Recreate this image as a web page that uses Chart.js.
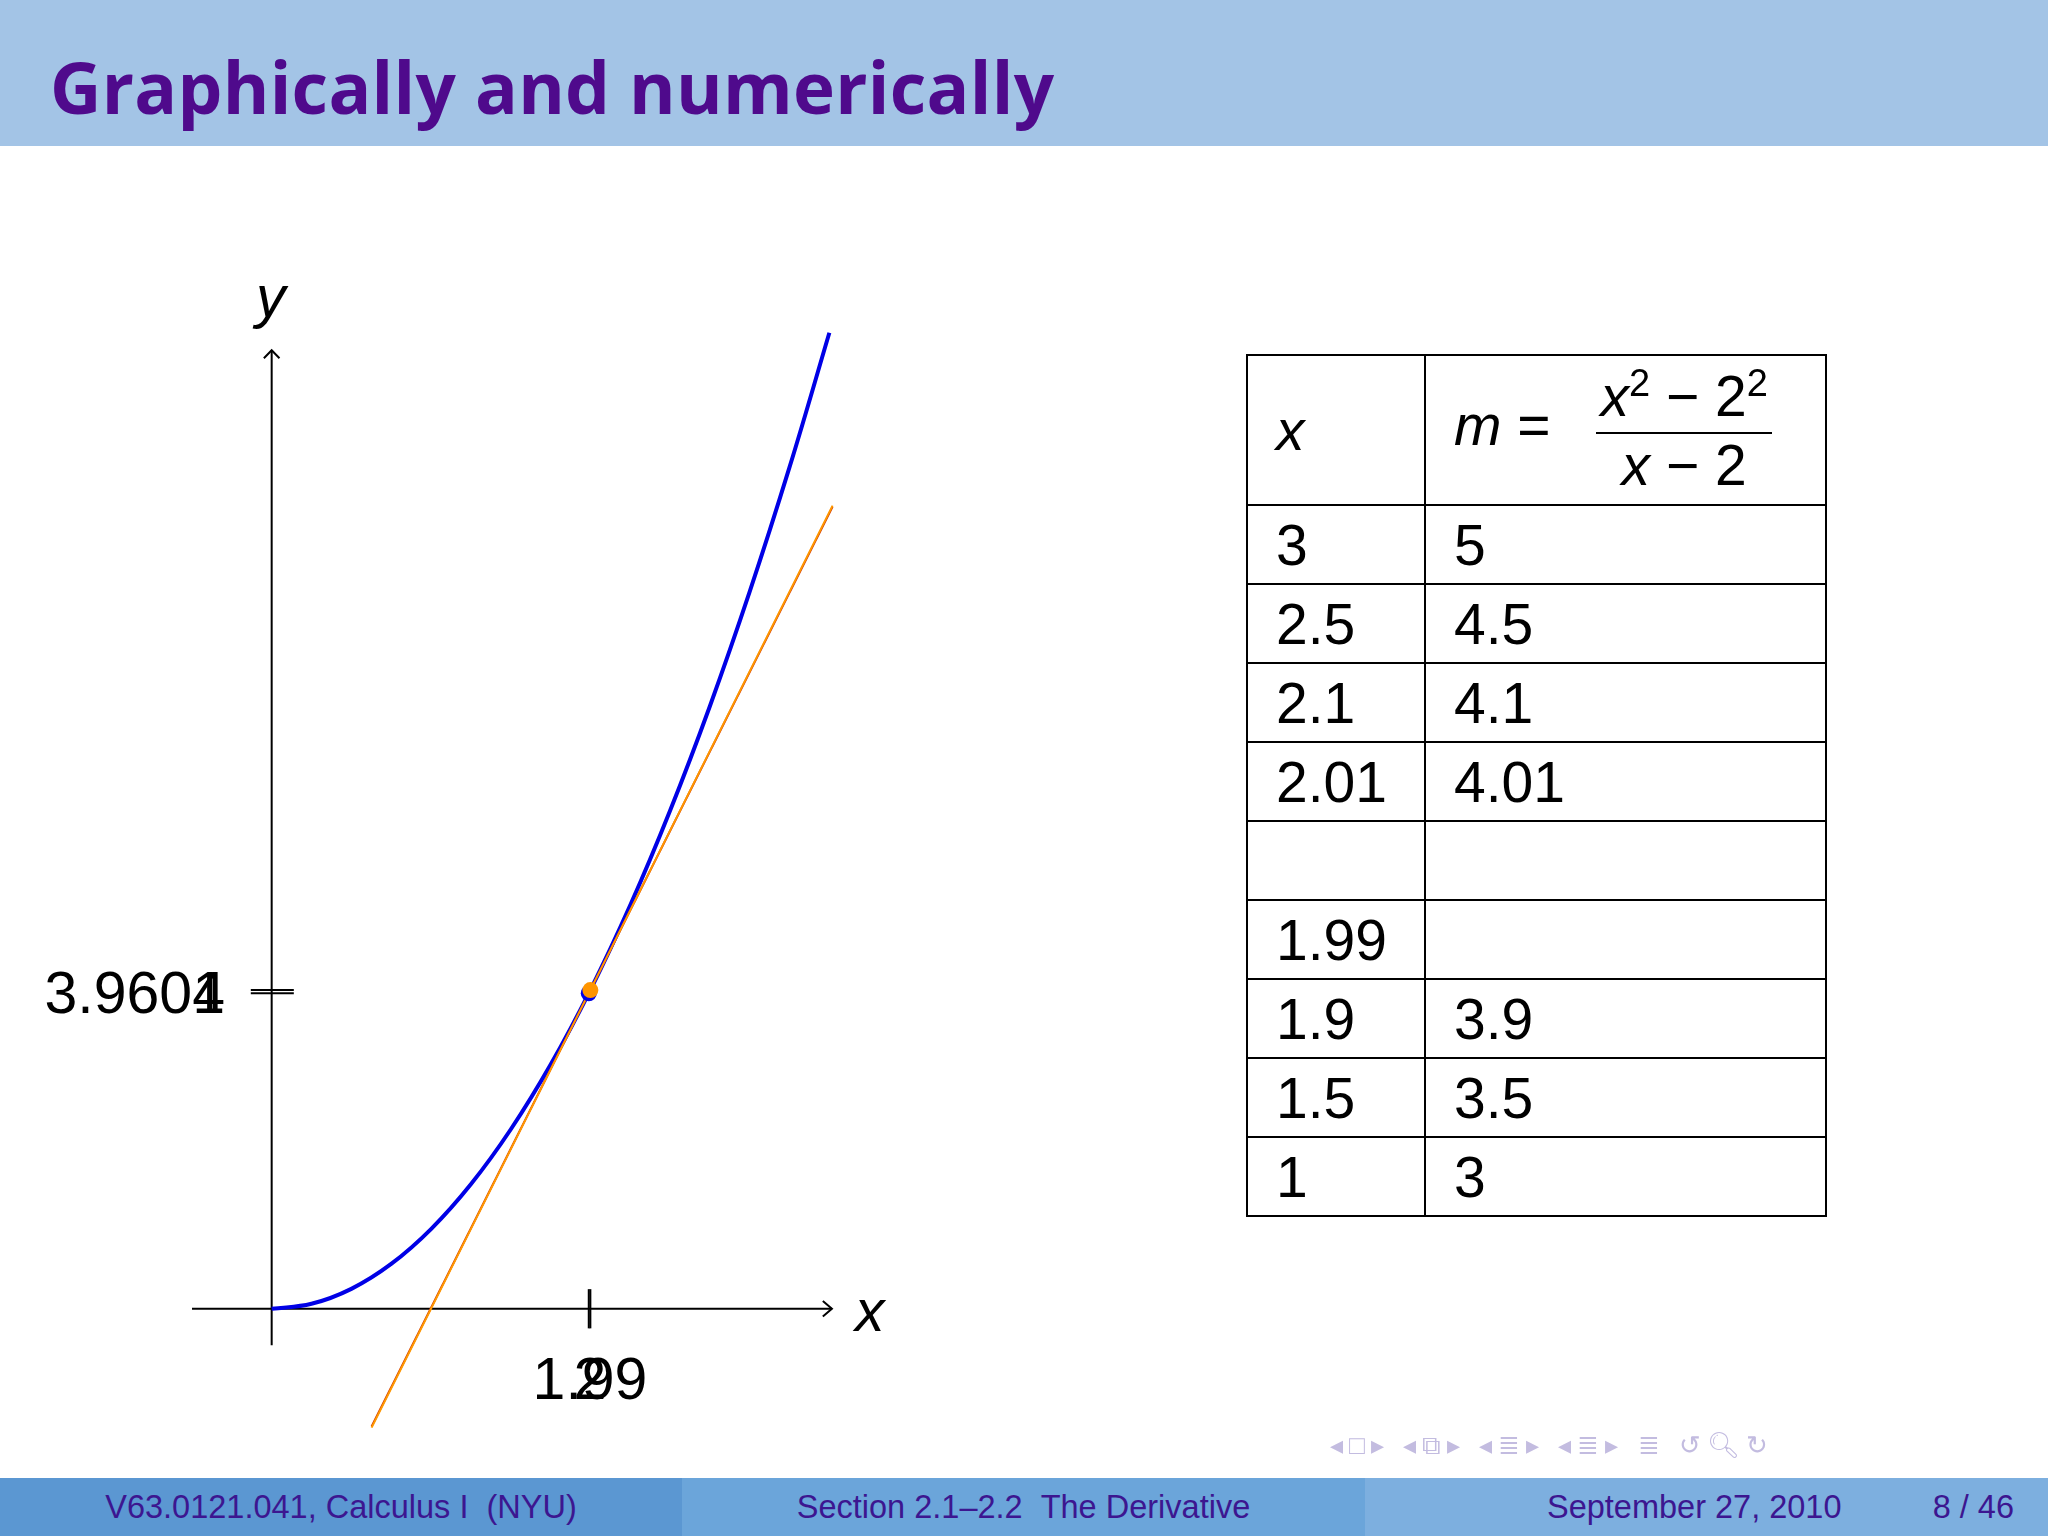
<!DOCTYPE html>
<html>
<head>
<meta charset="utf-8">
<script src="https://cdn.jsdelivr.net/npm/chart.js@4"></script>
<style>
  body { margin: 0; width: 2048px; height: 1536px; position: relative; background: #fff; overflow: hidden; font-family: "Liberation Sans", Arial, sans-serif; }
  #plot { position: absolute; left: 0; top: 0; width: 2048px; height: 1536px; }
  .abs { position: absolute; }
  #header { left: 0; top: 0; width: 2048px; height: 146px; background: #a3c4e6; }
  #title { left: 50px; top: 38px; font: bold 71px "Open Sans", "DejaVu Sans", sans-serif; color: #4f0a8c; letter-spacing: 0.3px; }
  .foot { top: 1478px; height: 58px; line-height: 58px; font-size: 32.5px; color: #3c1690; }
  .lbl { font-size: 59px; color: #000; line-height: 1; }
  table { position: absolute; left: 1246px; top: 354px; border-collapse: collapse; font-size: 57px; }
  td { border: 2px solid #000; height: 77px; padding: 0 0 0 28px; vertical-align: middle; }
  td.c1 { width: 148px; }
  td.c2 { width: 371px; }
  tr.hd td { height: 148px; }
  .frac { display: inline-block; vertical-align: middle; text-align: center; margin-left: 30px; }
  .frac span { display: block; line-height: 1.1; }
  .frac .num { border-bottom: 2px solid #000; padding: 0 4px 4px; }
  #nav { left: 1330px; top: 1430px; font-size: 26px; color: #c3bce0; letter-spacing: 6px; }
</style>
</head>
<body>
<canvas id="plot" width="2048" height="1536"></canvas>
<div class="abs" id="header"></div>
<div class="abs" id="title">Graphically and numerically</div>

<div class="abs lbl" style="left:256px;top:268px;font-style:italic;">y</div>
<div class="abs lbl" style="left:855px;top:1282px;font-style:italic;">x</div>
<div class="abs lbl" style="right:1823px;top:964px;">3.9601</div>
<div class="abs lbl" style="right:1823px;top:964px;">4</div>
<div class="abs lbl" style="left:590px;top:1350px;transform:translateX(-50%);">1.99</div>
<div class="abs lbl" style="left:590px;top:1350px;transform:translateX(-50%);">2</div>

<table>
  <tr class="hd"><td class="c1"><i>x</i></td>
    <td class="c2"><i>m</i> = <span class="frac"><span class="num"><i>x</i><sup style="font-size:38px">2</sup> − 2<sup style="font-size:38px">2</sup></span><span><i>x</i> − 2</span></span></td></tr>
  <tr><td class="c1">3</td><td class="c2">5</td></tr>
  <tr><td class="c1">2.5</td><td class="c2">4.5</td></tr>
  <tr><td class="c1">2.1</td><td class="c2">4.1</td></tr>
  <tr><td class="c1">2.01</td><td class="c2">4.01</td></tr>
  <tr><td class="c1"></td><td class="c2"></td></tr>
  <tr><td class="c1">1.99</td><td class="c2"></td></tr>
  <tr><td class="c1">1.9</td><td class="c2">3.9</td></tr>
  <tr><td class="c1">1.5</td><td class="c2">3.5</td></tr>
  <tr><td class="c1">1</td><td class="c2">3</td></tr>
</table>

<div class="abs" id="nav">◂□▸ ◂⧉▸ ◂≣▸ ◂≣▸ ≣ ↺🔍︎↻</div>

<div class="abs foot" style="left:0;width:682px;background:#5b97d2;text-align:center;">V63.0121.041, Calculus I &nbsp;(NYU)</div>
<div class="abs foot" style="left:682px;width:683px;background:#6ba5da;text-align:center;">Section 2.1–2.2 &nbsp;The Derivative</div>
<div class="abs foot" style="left:1365px;width:683px;background:#7dafdf;">
  <span style="position:absolute;left:182px;">September 27, 2010</span>
  <span style="position:absolute;right:34px;">8 / 46</span>
</div>

<script>
// curve y = x^2
const curveX = [0, 0.25, 0.5, 0.75, 1, 1.25, 1.5, 1.75, 2, 2.25, 2.5, 2.75, 3, 3.25, 3.5];
const curveY = [0, 0.0625, 0.25, 0.5625, 1, 1.5625, 2.25, 3.0625, 4, 5.0625, 6.25, 7.5625, 9, 10.5625, 12.25];
// tangent at (2,4) and secant through (1.99, 3.9601)
const tangentX = [0.627, 3.52];
const tangentY = [-1.492, 10.08];
const secantX = [0.627, 3.52];
const secantY = [-1.478, 10.065];
const pointA = { x: 2, y: 4 };
const pointB = { x: 1.99, y: 3.9601 };

function pts(xs, ys) { return xs.map((x, i) => ({ x: x, y: ys[i] })); }
function seg(a, b, c) { return c ? [a, b, c] : [a, b]; }
const thin = { borderColor: '#000', borderWidth: 2, pointRadius: 0, showLine: true, fill: false, order: 6 };

new Chart(document.getElementById('plot'), {
  type: 'scatter',
  data: {
    datasets: [
      Object.assign({ data: seg({ x: -0.5, y: 0 }, { x: 3.516, y: 0 }) }, thin),
      Object.assign({ data: seg({ x: 0, y: -0.459 }, { x: 0, y: 12.03 }) }, thin),
      Object.assign({ data: seg({ x: 3.459, y: 0.098 }, { x: 3.516, y: 0 }, { x: 3.459, y: -0.098 }) }, thin),
      Object.assign({ data: seg({ x: -0.049, y: 11.93 }, { x: 0, y: 12.03 }, { x: 0.049, y: 11.93 }) }, thin),
      Object.assign({ data: seg({ x: -0.131, y: 4 }, { x: 0.139, y: 4 }) }, thin),
      Object.assign({ data: seg({ x: -0.131, y: 3.9601 }, { x: 0.139, y: 3.9601 }) }, thin),
      Object.assign({ data: seg({ x: 2, y: -0.246 }, { x: 2, y: 0.246 }) }, thin),
      Object.assign({ data: seg({ x: 1.99, y: -0.246 }, { x: 1.99, y: 0.246 }) }, thin),
      { data: pts(curveX, curveY), showLine: true, borderColor: '#0000e6', borderWidth: 4, pointRadius: 0, tension: 0.4, fill: false, order: 5 },
      { data: pts(secantX, secantY), showLine: true, borderColor: '#cc3300', borderWidth: 2, pointRadius: 0, fill: false, order: 4 },
      { data: pts(tangentX, tangentY), showLine: true, borderColor: '#ff9900', borderWidth: 2, pointRadius: 0, fill: false, order: 2 },
      { data: [pointB], pointRadius: 8, pointBackgroundColor: '#0000e6', pointBorderWidth: 0, order: 1 },
      { data: [pointA], pointRadius: 8, pointBackgroundColor: '#ff9500', pointBorderWidth: 0, order: 0 }
    ]
  },
  options: {
    responsive: false,
    animation: false,
    layout: { padding: 0, autoPadding: false },
    plugins: { legend: { display: false }, tooltip: { enabled: false } },
    scales: {
      x: { type: 'linear', display: false, min: -1.705, max: 11.148 },
      y: { type: 'linear', display: false, min: -2.852, max: 16.426 }
    }
  }
});
</script>
</body>
</html>
